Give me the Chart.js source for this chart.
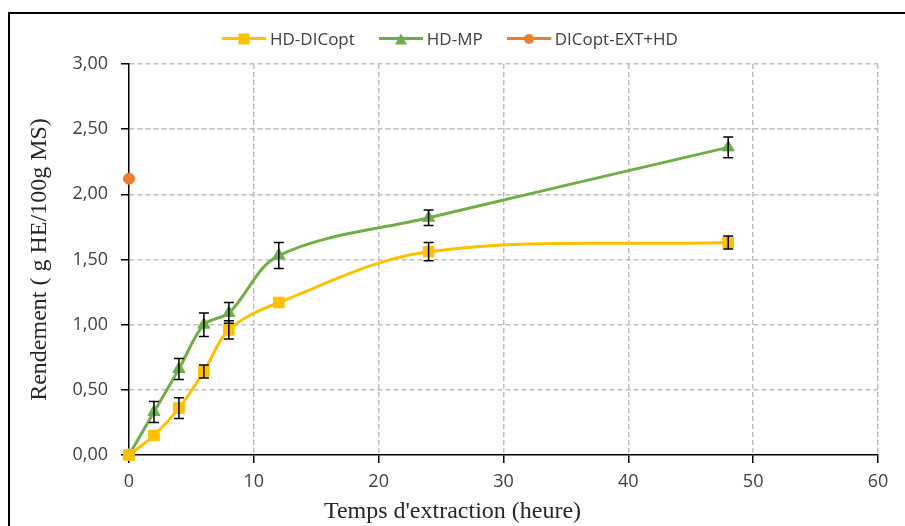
<!DOCTYPE html>
<html>
<head>
<meta charset="utf-8">
<script src="https://cdn.jsdelivr.net/npm/chart.js@4.4.0/dist/chart.umd.min.js"></script>
<style>
  html, body { margin: 0; padding: 0; background: #fff; overflow: hidden; }
  #wrap { position: relative; width: 905px; height: 526px; }
  #frame { position: absolute; left: 8px; top: 12px; width: 1000px; height: 1000px;
           border-left: 2px solid #000; border-top: 2px solid #000; }
  #myChart { position: absolute; left: 0; top: 0; }
  #legend { position: absolute; top: 27px; left: 222px; display: flex; gap: 24px;
            font-family: "Open Sans"; font-size: 17px; color: #404040; }
  .item { display: flex; align-items: center; gap: 4px; }
  .line { position: relative; width: 44px; height: 3px; }
  .mark { position: absolute; left: 50%; top: 50%; transform: translate(-50%, -50%); }
  #xTitle { position: absolute; left: 0; width: 905px; top: 497px; text-align: center;
            font-family: "Liberation Serif"; font-size: 24px; color: #262626; }
</style>
</head>
<body>
<div id="wrap">
  <div id="frame"></div>
  <canvas id="myChart" width="905" height="526"></canvas>
  <div id="legend"></div>
  <div id="xTitle">Temps d'extraction (heure)</div>
</div>
<script>
// data
const hours = [0, 2, 4, 6, 8, 12, 24, 48];
const dicopt = [0, 0.15, 0.36, 0.64, 0.96, 1.17, 1.56, 1.63];
const dicoptErr = [0, 0, 0.08, 0.05, 0.07, 0, 0.07, 0.05];
const mp = [0, 0.33, 0.66, 1.00, 1.09, 1.53, 1.82, 2.36];
const mpErr = [0, 0.08, 0.08, 0.09, 0.08, 0.10, 0.06, 0.08];
const extHours = [0];
const ext = [2.12];

const names = ['HD-DICopt', 'HD-MP', 'DICopt-EXT+HD'];
const colors = ['#FFC000', '#70AD47', '#ED7D31'];

function pts(xs, ys) { return xs.map((v, i) => ({ x: v, y: ys[i] })); }

// error bars, drawn through the scales
const errorBars = {
  id: 'errorBars',
  afterDatasetsDraw(chart) {
    const ctx = chart.ctx;
    const x = chart.scales.x, y = chart.scales.y;
    chart.data.datasets.forEach(ds => {
      if (!ds.errors) return;
      ctx.save();
      ctx.strokeStyle = '#000';
      ctx.lineWidth = 1.5;
      ds.data.forEach((p, j) => {
        const e = ds.errors[j];
        if (!e) return;
        const px = x.getPixelForValue(p.x);
        const top = y.getPixelForValue(p.y + e);
        const bot = y.getPixelForValue(p.y - e);
        ctx.beginPath();
        ctx.moveTo(px, top); ctx.lineTo(px, bot);
        ctx.moveTo(px - 5, top); ctx.lineTo(px + 5, top);
        ctx.moveTo(px - 5, bot); ctx.lineTo(px + 5, bot);
        ctx.stroke();
      });
      ctx.restore();
    });
  }
};

// legend (html)
const markCss = [
  'width:11px;height:11px;background:' + colors[0],
  'width:0;height:0;border-left:6px solid transparent;border-right:6px solid transparent;border-bottom:11px solid ' + colors[1],
  'width:10px;height:10px;border-radius:50%;background:' + colors[2]
];
const legend = document.getElementById('legend');
names.forEach((n, i) => {
  legend.innerHTML += '<div class="item"><div class="line" style="background:' + colors[i] +
    '"><div class="mark" style="' + markCss[i] + '"></div></div><span>' + n + '</span></div>';
});

Chart.defaults.font.family = 'Open Sans';
Chart.defaults.color = '#404040';

const gridColor = c => (c.tick && c.tick.value === 0) ? 'rgba(0,0,0,0)' : '#bfbfbf';

new Chart(document.getElementById('myChart'), {
  type: 'line',
  data: {
    datasets: [{
      label: names[0],
      data: pts(hours, dicopt),
      errors: dicoptErr,
      borderColor: colors[0],
      backgroundColor: colors[0],
      borderWidth: 3,
      tension: 0.35,
      pointStyle: 'rect',
      pointRadius: 7.5,
      pointBorderWidth: 1,
      clip: false
    }, {
      label: names[1],
      data: pts(hours, mp),
      errors: mpErr,
      borderColor: colors[1],
      backgroundColor: colors[1],
      borderWidth: 3,
      tension: 0.35,
      pointStyle: 'triangle',
      pointRadius: 7,
      pointBorderWidth: 1,
      clip: false
    }, {
      label: names[2],
      data: pts(extHours, ext),
      borderColor: colors[2],
      backgroundColor: colors[2],
      showLine: false,
      pointStyle: 'circle',
      pointRadius: 5.5,
      clip: false
    }]
  },
  options: {
    responsive: false,
    animation: false,
    layout: { padding: { left: 9, top: 64, right: 27, bottom: 0 } },
    plugins: {
      legend: { display: false },
      tooltip: { enabled: false }
    },
    scales: {
      x: {
        type: 'linear',
        min: 0,
        max: 60,
        ticks: { stepSize: 10, padding: 8, font: { size: 18 } },
        grid: { color: gridColor, lineWidth: 1.5, tickColor: '#000', tickLength: 8, tickWidth: 1.5, tickBorderDash: [] },
        border: { color: '#000', width: 1.5, dash: [5, 3] },
        afterFit(s) { s.height = 71; }
      },
      y: {
        min: 0,
        max: 3,
        ticks: {
          stepSize: 0.5,
          padding: 13,
          font: { size: 18 },
          callback: v => v.toFixed(2).replace('.', ',')
        },
        grid: { color: gridColor, lineWidth: 1.5, tickColor: '#000', tickLength: 8, tickWidth: 1.5, tickBorderDash: [] },
        border: { color: '#000', width: 1.5, dash: [5, 3] },
        title: {
          display: true,
          text: 'Rendement ( g HE/100g MS)',
          font: { family: 'Liberation Serif', size: 24 },
          color: '#262626',
          padding: { top: 16, bottom: 0 }
        },
        afterFit(s) { s.width = 120; }
      }
    }
  },
  plugins: [errorBars]
});
</script>
</body>
</html>
